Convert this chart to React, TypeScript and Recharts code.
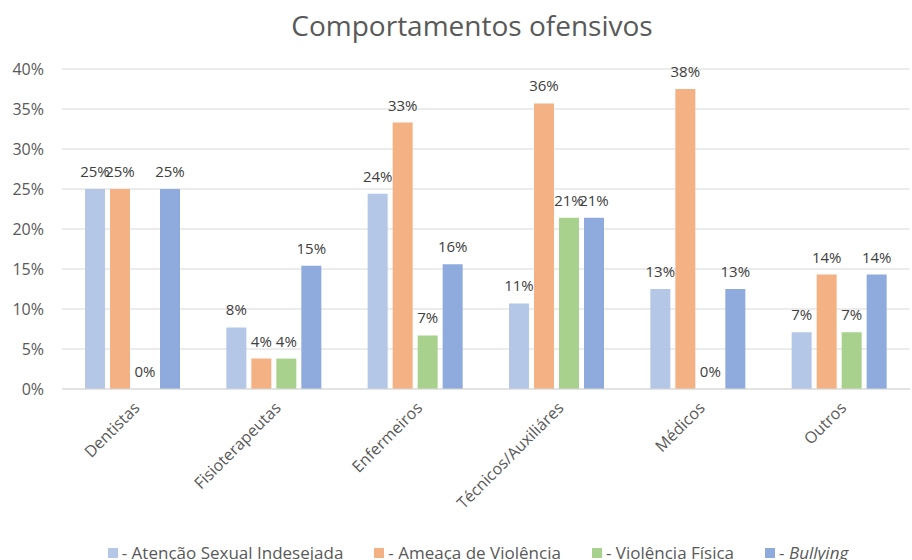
import React from "react";
import { BarChart, Bar, XAxis, YAxis, CartesianGrid, Legend } from "recharts";

const categories = ["Dentistas", "Fisioterapeutas", "Enfermeiros", "Técnicos/Auxiliáres", "Médicos", "Outros"];
const atencaoSexual = [25, 7.7, 24.4, 10.7, 12.5, 7.1];
const ameacaViolencia = [25, 3.8, 33.3, 35.7, 37.5, 14.3];
const violenciaFisica = [0, 3.8, 6.7, 21.4, 0, 7.1];
const bullying = [25, 15.4, 15.6, 21.4, 12.5, 14.3];
const yTicks = [0, 5, 10, 15, 20, 25, 30, 35, 40];

const seriesNames = ["- Atenção Sexual Indesejada", "- Ameaça de Violência", "- Violência Física", "- Bullying"];
const colors = ["#B4C7E7", "#F4B183", "#A9D18E", "#8FAADC"];

const data = categories.map((c, i) => ({
  name: c,
  a: atencaoSexual[i],
  b: ameacaViolencia[i],
  c: violenciaFisica[i],
  d: bullying[i],
}));

const FONT = "'Open Sans', 'DejaVu Sans', sans-serif";
const fmt = (v: any) => `${Math.round(Number(v))}%`;

const XTick = (props: any) => {
  const { x, y, payload } = props;
  return (
    <g transform={`translate(${x + 4},${y + 8})`}>
      <text
        transform="rotate(-45)"
        textAnchor="end"
        fill="#595959"
        fontSize={16}
        fontFamily={FONT}
        dy="0.35em"
      >
        {payload.value}
      </text>
    </g>
  );
};

const renderLabel = (props: any) => {
  const { x, y, width, height, value } = props;
  if (value === undefined || value === null) return null;
  const top = Math.min(Number(y), Number(y) + Number(height || 0));
  return (
    <text
      x={Number(x) + Number(width) / 2}
      y={top - 12}
      textAnchor="middle"
      fill="#404040"
      fontSize={15}
      fontFamily={FONT}
    >
      {fmt(value)}
    </text>
  );
};

const minSize = (v: any) => (Number(v) === 0 ? 0.01 : 0);

const LegendContent = () => (
  <div
    style={{
      position: "absolute",
      left: 22,
      top: 0,
      width: 912,
      display: "flex",
      justifyContent: "center",
      fontFamily: "'Liberation Sans Narrow', 'Open Sans', sans-serif",
      fontSize: 17,
      color: "#595959",
      whiteSpace: "nowrap",
    }}
  >
    {seriesNames.map((n, i) => (
      <div key={n} style={{ display: "flex", alignItems: "center", marginRight: i < 3 ? 31 : 0 }}>
        <span style={{ display: "inline-block", width: 10, height: 10, background: colors[i], marginRight: 4 }} />
        {i === 3 ? (
          <span>
            - <i>Bullying</i>
          </span>
        ) : (
          <span>{n}</span>
        )}
      </div>
    ))}
  </div>
);

export default function App() {
  const keys = ["a", "b", "c", "d"];
  return (
    <div style={{ position: "absolute", left: 0, top: 0, width: 912, height: 560, background: "#fff", overflow: "hidden" }}>
      <div
        style={{
          position: "absolute",
          left: 0,
          top: 6,
          width: 944,
          textAlign: "center",
          fontFamily: FONT,
          fontSize: 28,
          color: "#595959",
        }}
      >
        Comportamentos ofensivos
      </div>
      <BarChart
        width={912}
        height={560}
        data={data}
        margin={{ top: 69, right: 2, bottom: 41, left: 0 }}
        barGap={5}
        barSize={20}
      >
        <CartesianGrid vertical={false} stroke="#D9D9D9" />
        <XAxis
          dataKey="name"
          tick={<XTick />}
          tickLine={false}
          axisLine={{ stroke: "#D9D9D9" }}
          height={130}
          interval={0}
        />
        <YAxis
          width={62}
          domain={[0, 40]}
          ticks={yTicks}
          tickFormatter={(v: number) => `${v}%`}
          axisLine={false}
          tickLine={false}
          tickSize={0}
          tickMargin={18}
          tick={{ fill: "#595959", fontSize: 16, fontFamily: FONT }}
        />
        <Legend
          verticalAlign="bottom"
          content={<LegendContent />}
          wrapperStyle={{ position: "absolute", left: 0, top: 541, width: 912 }}
        />
        {keys.map((k, i) => (
          <Bar
            key={k}
            dataKey={k}
            name={seriesNames[i]}
            fill={colors[i]}
            isAnimationActive={false}
            minPointSize={minSize}
            label={renderLabel}
          />
        ))}
      </BarChart>
    </div>
  );
}
